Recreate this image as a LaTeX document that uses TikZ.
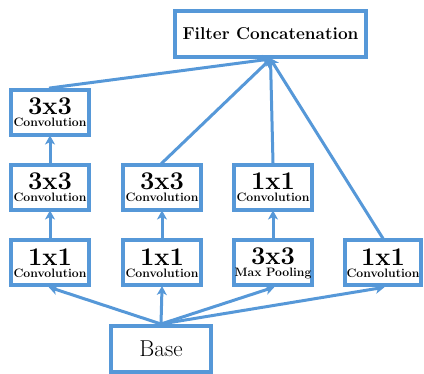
\documentclass[tikz,border=0pt]{standalone}
\usetikzlibrary{arrows.meta}
\definecolor{bblue}{RGB}{86,152,216}
\tikzset{
  box/.style={draw=bblue, line width=4pt, fill=white, inner sep=0pt, align=center},
  small/.style={box, minimum width=78pt, minimum height=45pt},
  conn/.style={draw=bblue, line width=3pt, -{Stealth[length=9pt,width=10pt,inset=2.5pt]}, shorten <=-1pt, shorten >=-1.5pt},
}
\newcommand{\bigtxt}[1]{\fontsize{25.5}{15}\selectfont\bfseries #1}
\newcommand{\labtxt}[1]{\fontsize{12.2}{15}\selectfont\bfseries #1}
\begin{document}
\begin{tikzpicture}[x=1pt,y=-1pt]
\useasboundingbox (0,0) rectangle (424,374);
\node[box, minimum width=191pt, minimum height=46pt] (fc) at (270.5,34) {\fontsize{17.2}{18}\selectfont\bfseries Filter Concatenation};
\node[small] (a3) at (50,112.5) {\bigtxt{3x3}\\\labtxt{Convolution}};
\node[small] (a2) at (50,187.5) {\bigtxt{3x3}\\\labtxt{Convolution}};
\node[small] (a1) at (50,263) {\bigtxt{1x1}\\\labtxt{Convolution}};
\node[small] (b2) at (162,187.5) {\bigtxt{3x3}\\\labtxt{Convolution}};
\node[small] (b1) at (162,263) {\bigtxt{1x1}\\\labtxt{Convolution}};
\node[small] (c2) at (273,187.5) {\bigtxt{1x1}\\\labtxt{Convolution}};
\node[small] (c1) at (273,263) {\bigtxt{3x3}\\\labtxt{Max Pooling}};
\node[small, minimum width=76pt] (d1) at (383,263) {\bigtxt{1x1}\\\labtxt{Convolution}};
\node[box, minimum width=100pt, minimum height=46pt] (base) at (161,349) {\fontsize{23}{23}\selectfont Base};
\draw[conn] (a1.north) -- (a2.south);
\draw[conn] (a2.north) -- (a3.south);
\draw[conn] (b1.north) -- (b2.south);
\draw[conn] (c1.north) -- (c2.south);
\draw[conn] (a3.north) -- (fc.south);
\draw[conn] (b2.north) -- (fc.south);
\draw[conn] (c2.north) -- (fc.south);
\draw[conn] (d1.north) -- (fc.south);
\draw[conn] (base.north) -- (a1.south);
\draw[conn] (base.north) -- (b1.south);
\draw[conn] (base.north) -- (c1.south);
\draw[conn] (base.north) -- (d1.south);
\end{tikzpicture}
\end{document}
